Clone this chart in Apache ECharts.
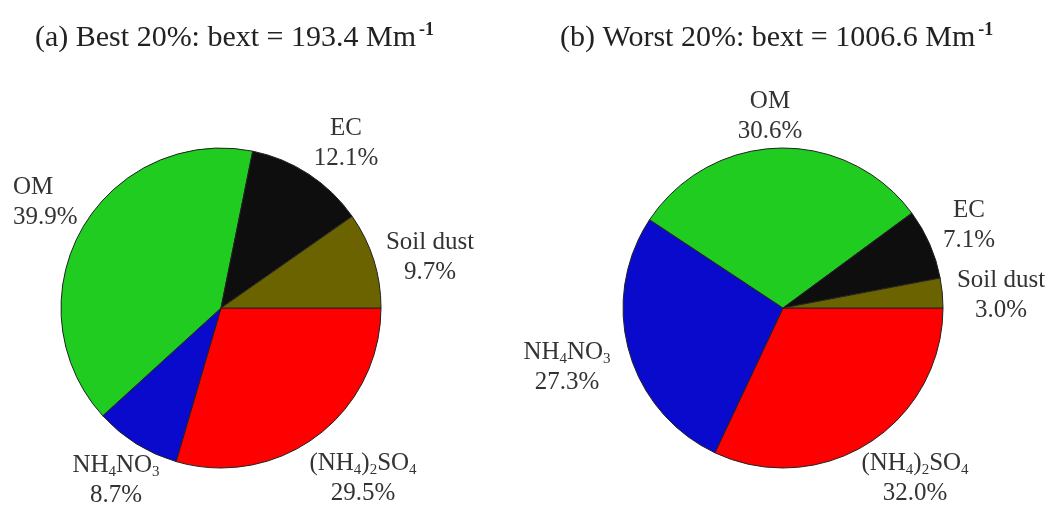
<!DOCTYPE html>
<html>
<head>
<meta charset="utf-8">
<script src="https://cdn.jsdelivr.net/npm/echarts@6/dist/echarts.min.js"></script>
<style>
  html, body { margin: 0; padding: 0; background: #fff; }
  #chart { width: 1052px; height: 508px; }
</style>
</head>
<body>
<div id="chart"></div>
<script>
// Light-extinction budget, species in clockwise order from 3 o'clock
const species = ['(NH4)2SO4', 'NH4NO3', 'OM', 'EC', 'Soil dust'];
const bestShares = [29.5, 8.7, 39.9, 12.1, 9.7];    // best 20% days
const worstShares = [32.0, 27.3, 30.6, 7.1, 3.0];   // worst 20% days
const bestBext = '193.4';
const worstBext = '1006.6';
const speciesColors = ['#fe0000', '#0a0acc', '#20cc20', '#0e0e0e', '#6a6300'];

// Rich-text versions of the chemical names (subscripts)
const richNames = {
  '(NH4)2SO4': '{t|(NH}{s|4}{t|)}{s|2}{t|SO}{s|4}',
  'NH4NO3': '{t|NH}{s|4}{t|NO}{s|3}',
  'OM': '{t|OM}',
  'EC': '{t|EC}',
  'Soil dust': '{t|Soil dust}'
};

// Label anchor per slice: [x, y, align]
const labelSpots = [
  [[363, 478, 'center'], [116, 480, 'center'], [13, 202, 'left'], [346, 143, 'center'], [430, 257, 'center']],
  [[915, 478, 'center'], [567, 367, 'center'], [770, 116, 'center'], [969, 225, 'center'], [1001, 295, 'center']]
];

const serif = '"Liberation Serif", "DejaVu Serif", serif';
const labelRich = {
  t: { fontFamily: serif, fontSize: 25, color: '#333', lineHeight: 30 },
  s: { fontFamily: serif, fontSize: 15, color: '#333', lineHeight: 30, verticalAlign: 'bottom', padding: [9, 0, 0, 0] },
  v: { fontFamily: serif, fontSize: 25, color: '#333', lineHeight: 30 }
};

function pieSeries(idx, shares, center) {
  return {
    type: 'pie',
    center: center,
    radius: 160,
    startAngle: 0,
    clockwise: true,
    animation: false,
    silent: true,
    data: species.map((n, i) => ({
      name: n,
      value: shares[i],
      itemStyle: { color: speciesColors[i] }
    })),
    itemStyle: { borderColor: '#222', borderWidth: 1 },
    label: {
      show: true,
      position: 'outside',
      overflow: 'none',
      formatter: p => richNames[p.name] + '\n{v|' + p.value.toFixed(1) + '%}',
      rich: labelRich
    },
    labelLine: { show: false },
    labelLayout: p => {
      const s = labelSpots[idx][p.dataIndex];
      return { x: s[0], y: s[1], align: s[2], verticalAlign: 'middle' };
    }
  };
}

const titleRich = {
  a: { fontFamily: serif, fontSize: 30, fontWeight: 'normal', color: '#222' },
  sup: { fontFamily: serif, fontSize: 18, fontWeight: 'bold', color: '#222', verticalAlign: 'top', padding: [0, 0, 16, 3] }
};

const chart = echarts.init(document.getElementById('chart'), null, { renderer: 'canvas' });
chart.setOption({
  backgroundColor: '#fff',
  title: [
    {
      text: '{a|(a) Best 20%: bext = ' + bestBext + ' Mm}{sup|-1}',
      left: 30, top: 16,
      textStyle: { fontWeight: 'normal', rich: titleRich }
    },
    {
      text: '{a|(b) Worst 20%: bext = ' + worstBext + ' Mm}{sup|-1}',
      left: 555, top: 16,
      textStyle: { fontWeight: 'normal', rich: titleRich }
    }
  ],
  series: [
    pieSeries(0, bestShares, [221, 308]),
    pieSeries(1, worstShares, [783, 308])
  ]
});
</script>
</body>
</html>
